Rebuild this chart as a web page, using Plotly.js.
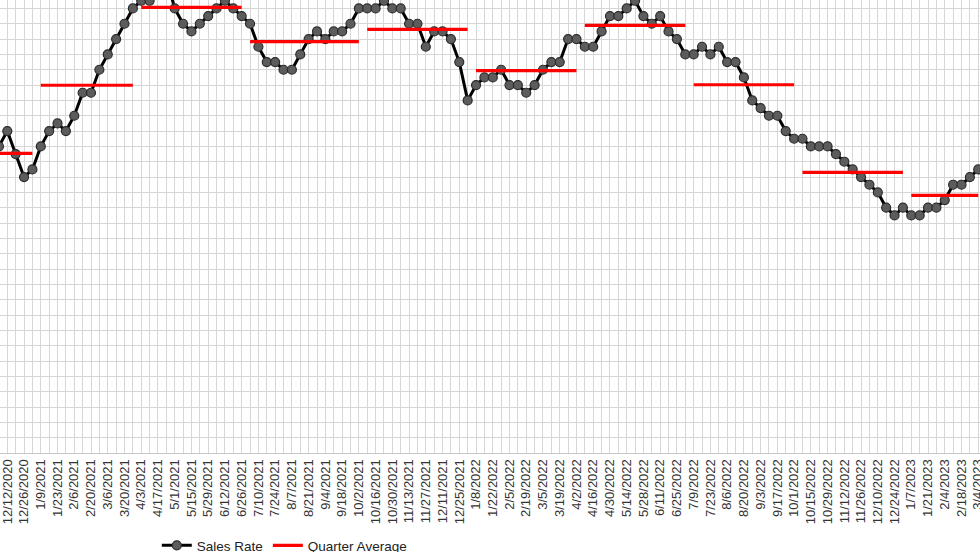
<!DOCTYPE html>
<html>
<head>
<meta charset="utf-8">
<script src="https://cdn.plot.ly/plotly-3.0.1.min.js"></script>
<style>
  html, body { margin: 0; padding: 0; background: #ffffff; overflow: hidden; }
  #chart { width: 980px; height: 561px; }
</style>
</head>
<body>
<div id="chart"></div>
<script>
// Weekly categories (week dates)
const weeks = [
  "12/5/2020","12/12/2020","12/19/2020","12/26/2020",
  "1/2/2021","1/9/2021","1/16/2021","1/23/2021","1/30/2021","2/6/2021","2/13/2021","2/20/2021","2/27/2021",
  "3/6/2021","3/13/2021","3/20/2021","3/27/2021","4/3/2021","4/10/2021","4/17/2021","4/24/2021","5/1/2021",
  "5/8/2021","5/15/2021","5/22/2021","5/29/2021","6/5/2021","6/12/2021","6/19/2021","6/26/2021","7/3/2021",
  "7/10/2021","7/17/2021","7/24/2021","7/31/2021","8/7/2021","8/14/2021","8/21/2021","8/28/2021","9/4/2021",
  "9/11/2021","9/18/2021","9/25/2021","10/2/2021","10/9/2021","10/16/2021","10/23/2021","10/30/2021","11/6/2021",
  "11/13/2021","11/20/2021","11/27/2021","12/4/2021","12/11/2021","12/18/2021","12/25/2021",
  "1/1/2022","1/8/2022","1/15/2022","1/22/2022","1/29/2022","2/5/2022","2/12/2022","2/19/2022","2/26/2022",
  "3/5/2022","3/12/2022","3/19/2022","3/26/2022","4/2/2022","4/9/2022","4/16/2022","4/23/2022","4/30/2022",
  "5/7/2022","5/14/2022","5/21/2022","5/28/2022","6/4/2022","6/11/2022","6/18/2022","6/25/2022","7/2/2022",
  "7/9/2022","7/16/2022","7/23/2022","7/30/2022","8/6/2022","8/13/2022","8/20/2022","8/27/2022","9/3/2022",
  "9/10/2022","9/17/2022","9/24/2022","10/1/2022","10/8/2022","10/15/2022","10/22/2022","10/29/2022","11/5/2022",
  "11/12/2022","11/19/2022","11/26/2022","12/3/2022","12/10/2022","12/17/2022","12/24/2022","12/31/2022",
  "1/7/2023","1/14/2023","1/21/2023","1/28/2023","2/4/2023","2/11/2023","2/18/2023","2/25/2023","3/4/2023"
];

// Tick labels shown on the axis (every other week)
const tickLabels = [
  "12/12/2020","12/26/2020","1/9/2021","1/23/2021","2/6/2021","2/20/2021","3/6/2021","3/20/2021","4/3/2021",
  "4/17/2021","5/1/2021","5/15/2021","5/29/2021","6/12/2021","6/26/2021","7/10/2021","7/24/2021","8/7/2021",
  "8/21/2021","9/4/2021","9/18/2021","10/2/2021","10/16/2021","10/30/2021","11/13/2021","11/27/2021",
  "12/11/2021","12/25/2021","1/8/2022","1/22/2022","2/5/2022","2/19/2022","3/5/2022","3/19/2022","4/2/2022",
  "4/16/2022","4/30/2022","5/14/2022","5/28/2022","6/11/2022","6/25/2022","7/9/2022","7/23/2022","8/6/2022",
  "8/20/2022","9/3/2022","9/17/2022","10/1/2022","10/15/2022","10/29/2022","11/12/2022","11/26/2022",
  "12/10/2022","12/24/2022","1/7/2023","1/21/2023","2/4/2023","2/18/2023","3/4/2023"
];

// Sales Rate (one value per week)
const salesRate = [
  20, 21, 19.5, 18, 18.5,
  20, 21, 21.5, 21, 22, 23.5, 23.5, 25, 26, 27, 28, 29,
  29.5, 29.5, 31, 31, 29, 28, 27.5, 28, 28.5, 29, 29.5, 29, 28.5,
  28, 26.5, 25.5, 25.5, 25, 25, 26, 27, 27.5, 27, 27.5, 27.5, 28, 29,
  29, 29, 29.5, 29, 29, 28, 28, 26.5, 27.5, 27.5, 27, 25.5, 23,
  24, 24.5, 24.5, 25, 24, 24, 23.5, 24, 25, 25.5, 25.5, 27, 27,
  26.5, 26.5, 27.5, 28.5, 28.5, 29, 29.5, 28.5, 28, 28.5, 27.5, 27, 26,
  26, 26.5, 26, 26.5, 25.5, 25.5, 24.5, 23, 22.5, 22, 22, 21, 20.5,
  20.5, 20, 20, 20, 19.5, 19, 18.5, 18, 17.5, 17, 16, 15.5, 16,
  15.5, 15.5, 16, 16, 16.5, 17.5, 17.5, 18, 18.5
];

// Quarter averages: first week, last week, value
const qStart = ["12/5/2020","1/9/2021","4/3/2021","7/3/2021","10/9/2021","1/8/2022","4/9/2022","7/9/2022","10/8/2022","1/7/2023"];
const qEnd   = ["1/2/2021","3/27/2021","6/26/2021","10/2/2021","1/1/2022","4/2/2022","7/2/2022","10/1/2022","12/31/2022","3/4/2023"];
const qAvg   = [19.55, 23.99, 29.07, 26.83, 27.64, 24.94, 27.90, 24.02, 18.31, 16.81];

// Build segment arrays for the quarter average series
const qx = [], qy = [];
qStart.forEach((s, k) => {
  qx.push(s, qEnd[k], null);
  qy.push(qAvg[k], qAvg[k], null);
});

const shown = new Set(tickLabels);
const tickText = weeks.map(w => shown.has(w) ? w : "");

const FONT = '"Liberation Sans", Arial, sans-serif';

const traces = [
  {
    type: 'scatter',
    mode: 'lines+markers',
    name: 'Sales Rate',
    x: weeks,
    y: salesRate,
    line: { color: '#000000', width: 3 },
    marker: { size: 9, color: '#5c5c5c', line: { color: '#2b2b2b', width: 1.2 } }
  },
  {
    type: 'scatter',
    mode: 'lines',
    name: 'Quarter Average',
    x: qx,
    y: qy,
    connectgaps: false,
    line: { color: '#ff0000', width: 3.2 }
  }
];

const layout = {
  width: 980,
  height: 561,
  margin: { l: 0, r: 0, t: 0, b: 108, pad: 0 },
  paper_bgcolor: '#ffffff',
  plot_bgcolor: '#ffffff',
  font: { family: FONT, size: 13, color: '#333333' },
  showlegend: true,
  legend: {
    orientation: 'h',
    x: 0.160, xanchor: 'left',
    yref: 'container', y: 0.0, yanchor: 'bottom',
    font: { family: FONT, size: 13.5, color: '#222222' },
    bgcolor: 'rgba(0,0,0,0)'
  },
  xaxis: {
    type: 'category',
    range: [0.128, 117.21],
    tickmode: 'array',
    tickvals: weeks,
    ticktext: tickText,
    tickangle: -90,
    ticks: '',
    tickfont: { family: FONT, size: 13, color: '#333333' },
    showgrid: true,
    gridcolor: '#d6d6d6',
    gridwidth: 1,
    showline: true,
    linecolor: '#c8c8c8',
    linewidth: 1,
    zeroline: false,
    fixedrange: true
  },
  yaxis: {
    range: [0, 29.55],
    tick0: 0,
    dtick: 1,
    showticklabels: false,
    ticks: '',
    showgrid: true,
    gridcolor: '#d6d6d6',
    gridwidth: 1,
    zeroline: false,
    showline: false,
    fixedrange: true
  }
};

Plotly.newPlot('chart', traces, layout, { displayModeBar: false, staticPlot: true });
</script>
</body>
</html>
